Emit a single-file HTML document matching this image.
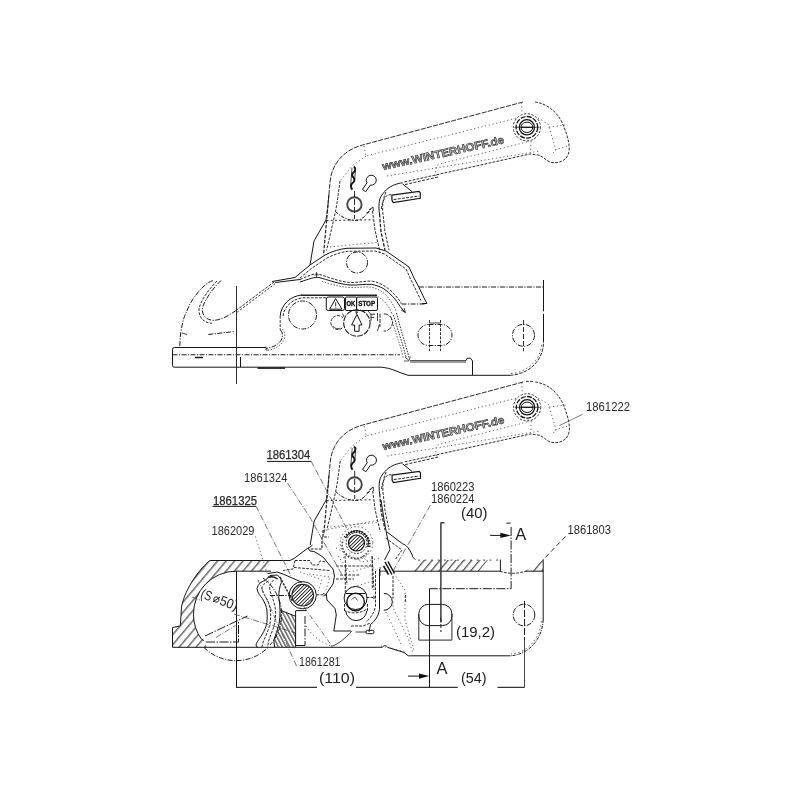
<!DOCTYPE html>
<html><head><meta charset="utf-8"><title>Coupling drawing</title>
<style>
html,body{margin:0;padding:0;background:#fff;}
body{width:800px;height:800px;overflow:hidden;font-family:"Liberation Sans",sans-serif;}
svg{display:block;filter:grayscale(1) blur(.3px)}
.s{fill:none;stroke:#151515;stroke-width:1}
.k{fill:none;stroke:#111;stroke-width:1.5}
.d{fill:none;stroke:#1c1c1c;stroke-width:1;stroke-dasharray:5 1.4 1.2 1.4}
.h{fill:none;stroke:#222;stroke-width:.95;stroke-dasharray:2.8 1.3}
.t{fill:none;stroke:#444;stroke-width:.85;stroke-dasharray:1.2 2.6}
.l{fill:none;stroke:#444;stroke-width:.75;stroke-dasharray:6 1.5 1 1.5}
.n{font-family:"Liberation Sans",sans-serif;font-size:12px;fill:#2b2b2b}
.m{font-family:"Liberation Sans",sans-serif;font-size:15.5px;fill:#222}
</style></head><body>
<svg width="800" height="800" viewBox="0 0 800 800">
<defs>
<pattern id="ha" width="6.5" height="6.5" patternUnits="userSpaceOnUse" patternTransform="rotate(40)"><line x1="0.8" y1="-1" x2="0.8" y2="8" stroke="#151515" stroke-width=".95"/></pattern>
<pattern id="ha2" width="6.05" height="6.05" patternUnits="userSpaceOnUse" patternTransform="rotate(40)"><line x1="1.55" y1="-1" x2="1.55" y2="8" stroke="#151515" stroke-width=".95"/></pattern>
<pattern id="hb" width="3.3" height="3.3" patternUnits="userSpaceOnUse" patternTransform="rotate(-28)"><line x1="1.6" y1="-1" x2="1.6" y2="5" stroke="#151515" stroke-width=".95"/></pattern>
<pattern id="hc" width="2.5" height="2.5" patternUnits="userSpaceOnUse" patternTransform="rotate(45)"><line x1="1.25" y1="-1" x2="1.25" y2="4" stroke="#151515" stroke-width=".9"/></pattern>

<!-- HANDLE -->
<g id="handle">
 <!-- outer outline -->
 <path class="s" d="M310,265 L314,241 L326,220"/>
 <path class="h" style="stroke-dasharray:5 1.3" d="M326,220 L328,205 L330,182.5 C331,168 340,151 362.5,145 L523,102"/>
 <path class="h" d="M535,101.9 C551,104.5 560,116 564,127 C568,137 571,148 568,155 C565,162 556,164 550,162 C545,160 543,156 538,155 L530,154 L404,182"/>
 <!-- inner dotted lines -->
 <path class="t" d="M364,146 L366,156 L517,118"/>
 <path class="t" d="M366,156 L352,166 L340,181"/>
 <path class="t" d="M387,176 L540,151"/>
 <path class="t" d="M436,176 L435.5,170 C436,166 437,165 440,164 L527,142"/>
 <path class="t" d="M538,118 L548,124 L556,150 L552,154"/>
 <path class="t" d="M549,127 L566,125"/>
 <!-- left leg lines -->
 <path class="h" d="M340,181 L337.5,200 L335.5,211.5 L332.5,225 L326.5,250.5"/>
 <path class="h" d="M328.8,195 L326.5,222 L323.5,255" style="stroke-width:1.2;stroke-dasharray:3.5 1.5"/>
 <path class="t" d="M330,247 L353.5,244.5 L379,242.3"/>
 <path class="d" d="M335.5,211.5 C340,216 347,220.3 355,220.5 C362,220.5 367,215 371.5,207.8" style="stroke-dasharray:3.5 1.3 1.2 1.3"/>
 <path class="h" d="M326.5,220.5 L373,219.8" style="stroke-dasharray:2 2.2"/>
 <!-- right leg -->
 <path class="s" d="M402.4,182.8 L400.6,183 C397,183.8 395,184.6 392.8,185.5 C389,187.3 386.5,189.5 384.9,191.3 C381.5,195 380,198 379.6,200 C378.8,204 378.6,209 379.5,214"/>
 <path class="h" d="M379.5,214 L381,232 L385,250" style="stroke-width:1.3;stroke-dasharray:3.5 1.4"/>
 <path class="h" d="M386,192 C383,198 382,206 383,214 L385,232 L389,250"/>
 <path class="h" d="M372.5,211 L375,230 L380,252"/>
 <path class="h" d="M405,184.6 L438,177" style="stroke-dasharray:3 1.4"/>
 <!-- button -->
 <path class="s" d="M391.9,195.2 L419,191.3 L420.3,193 V198.3 L393.2,202.6 L391.9,200 Z" style="stroke-width:1.2"/>
 <path class="h" d="M393.6,199.6 L419,196" style="stroke-dasharray:3 1.2"/>
 <path class="s" d="M402.4,183.8 L412,191.6"/>
 <path class="h" d="M381.4,209 C381.8,203 384,198.5 386.6,195.8 C388.5,194.6 390,194.6 391.9,195"/>
 <!-- chain -->
 <path class="k" style="stroke-width:1.9" d="M353.8,166.5 C356,168 355.5,171 353.5,172.5 C351.5,174 352,176.5 353.5,177.5 C355,179 354.5,182 352.5,183 C350.5,184.5 350.5,188 352.5,189.5" />
 <path class="s" d="M352,168 L350.6,186 M355.6,168 L354.6,181" style="stroke-width:.8"/>
 <!-- keyhole -->
 <path class="s" d="M367.0,182.8 A5.0,5.0 0 1 1 370.3,185.1 L365.7,191.7 L362.4,189.4 Z"/>
 <!-- small bolt -->
 <circle class="s" cx="354.4" cy="204.4" r="7.2" style="stroke-width:1.9;stroke:#444"/>
 <path class="h" d="M354.5,191 V219" style="stroke-dasharray:6 2"/>
 <path class="s" d="M369,210 l4,-3 l0.3,4 M366.5,213 l2.5,-1.2" style="stroke-width:.9"/>
 <!-- lock -->
 <circle class="h" cx="526.9" cy="127.3" r="13.6" style="stroke-dasharray:2.2 1.6"/>
 <circle class="s" cx="526.9" cy="127.3" r="10.8" style="stroke-width:1.3;stroke-dasharray:5 1.3"/>
 <circle class="s" cx="526.9" cy="127.3" r="7.6" style="stroke-width:1.3"/>
 <ellipse class="s" cx="526.9" cy="127.3" rx="5.9" ry="5.2"/>
 <path class="s" d="M514.4,127.3 H539.6" style="stroke-width:.7"/>
 <path class="s" d="M520.8,127.3 H533" style="stroke-width:1.2"/>
 <path class="t" d="M521.5,102.5 L522,111.5"/>
 <path class="t" d="M555,150 L567.5,146"/>
 <path class="t" d="M527.5,140 L531,141 L530.6,152.5"/>
 <!-- text -->
 <text transform="translate(383.3,170.3) rotate(-12.6) scale(1.0704,1)" font-family="Liberation Sans, sans-serif" font-weight="bold" font-size="11" fill="#b8b8b8" stroke="#222" stroke-width=".55">www.WINTERHOFF.de</text>
</g>
</defs>
<rect width="800" height="800" fill="#fff"/>

<!-- ================= UPPER DRAWING ================= -->
<g id="upper">
<use href="#handle"/>
<!-- base plate -->
<path class="s" d="M266,347.5 H174.3 Q172.5,347.5 172.5,349.3 V365.4 Q172.5,367.2 174.3,367.2 H382 C392,368 398,372.5 408,375.3 H510"/>
<path class="h" d="M510,375.3 C529,374.5 543.5,360 543.5,342.5" style="stroke-dasharray:3.5 1.2"/>
<path class="t" d="M511,373.5 C527.5,372.5 541.5,359 541.7,343" style="stroke-dasharray:1.5 2.5"/>
<path class="s" d="M543.5,280 V311.3 M543.5,313.8 V342.5"/>
<path class="d" d="M172.5,354.7 H400" style="stroke-width:1.1"/>
<path class="k" d="M195,357.5 H203"/>
<path class="s" d="M236.5,286 V384" style="stroke-width:.9"/>
<path class="s" d="M240.5,357 V367"/>
<path class="k" d="M257.5,368.1 H285"/>
<!-- hook -->
<path class="d" d="M179.8,346 C180,332 183,318 186.5,312 C189,305 192,300 195.5,295.5 C199,291 202,287.5 206,284.3 C209,282 211,281 214,280.4"/>
<path class="s" d="M182,333 l5,1.5" style="stroke-width:.8"/>
<path class="d" d="M221,280.5 C214,287 206,298 203,306 C200.5,313 205,320 213,320.3 C222,320.3 230,314.5 236,310.5"/>
<path class="h" d="M217,281 C210,288 201.5,299 199.3,307.5 C197.5,316 203,323 212,323.3"/>
<path class="h" d="M236,310.5 L274,282"/>
<path class="h" d="M237.2,312.2 L275,283.8" style="stroke-dasharray:2 1.8"/>
<path class="d" d="M208.3,334.5 L234.5,331.5"/>
<!-- body top -->
<path class="s" d="M272,281.5 L295,277.5 L310,265 L325,255 C333,251 340,249 347,248.3 L376,248 L386,251 L409,267 L414.4,278.8 L418.8,287 L425,300 L427,303.5 L422,303.5"/>
<path class="h" d="M300,278 L312,268 L327,258 C335,254 342,252 348,251.3 L375,251 L384.5,254 L406,269 L411,280 L415.5,289 L421,300.5"/>
<!-- ridge -->
<path class="s" d="M275,282.5 L300,279.5"/>
<path class="h" d="M300,279.5 C308,276 313,273.5 318,274 C326,276 338,281.5 350,282.5 C358,282.8 366,280.5 372.5,281.3 C378,282 382,284.5 385,286.3 C389,289 392.5,292 395,295 C398,298.5 400,301 401.3,303.8"/>
<path class="s" d="M300,282 C309,279 314,277 319,277.5 C327,279.5 338,284 350,285 C358,285.5 365,283.8 371.3,284.4 C376,285 380.5,286.8 383.8,288.8 C387,291 390,293.5 392.5,296.3 C395.5,299.5 398,303 400,306.3 L405,312.5"/>
<path class="t" d="M322,281.5 C330,284 340,287 350,287.5 C358,288 364,286.5 370,287 C374.5,287.6 378,289.2 381.3,291.3 C384.5,293.5 387.5,296.5 390,300 C392.5,303.5 394.5,307 396.3,311.3" style="stroke-dasharray:1.5 1.5"/>
<path class="t" d="M375,295 C379,297 383,300 386.3,303.8 C389,307 391,311 392.5,315" style="stroke-dasharray:1.5 1.5"/>
<path class="h" d="M396.5,313 L400.5,328 L405.5,345 L409.5,359" style="stroke-dasharray:1.6 1.2"/>
<path class="h" d="M393.5,315 L398,330 L403,346 L406.5,359" style="stroke-dasharray:1.6 1.2"/>
<path class="t" d="M390.5,316 L395.5,332 L400.5,347 L403.5,359" style="stroke-dasharray:1.5 1.5"/>
<path class="s" d="M401,310 l4.5,2.5 l-1.5,-4.5" style="stroke-width:.8"/>
<path class="s" d="M316.5,272 v6 M314.5,275 h4" style="stroke-width:.7"/>
<!-- window -->
<path class="s" d="M280.2,316 C281,305 290,296 302,295"/>
<path class="s" d="M301,295.2 H377" style="stroke-width:1.35;stroke:#222"/>
<path class="h" d="M283,316 C284,307 292,299 303,297.8 H326"/>
<path class="h" d="M280.2,316 V330"/>
<path class="d" d="M280.2,330 C282.5,332 283.2,335 281.8,339 C279.5,344 273,347.5 266,348.5"/>
<path class="t" d="M282.5,329 C285,332 285.5,336 284,340 C281.5,345.5 274,349.5 268,350.3" style="stroke-dasharray:1.5 1.5"/>
<path class="s" d="M266,346.5 v3.5 h2.5" style="stroke-width:.7"/>
<circle class="d" cx="302.5" cy="315" r="14"/>
<circle class="d" cx="357" cy="262.5" r="10.5"/>
<!-- labels -->
<rect class="s" x="326.3" y="297" width="18.2" height="13.5" rx="2"/>
<path class="s" d="M335.6,298.6 L342,309.2 H329.6 Z"/>
<path class="s" d="M335.7,302.3 V306.4 M335.7,307.4 V308.2" style="stroke-width:.9"/>
<rect class="s" x="345.6" y="297" width="11" height="13.5" rx=".5"/>
<rect class="s" x="356.6" y="297" width="20.9" height="13.5" rx="1.5"/>
<text x="346.4" y="306.3" font-size="6.8" font-weight="bold" fill="#111" stroke="#111" stroke-width=".3" textLength="8.8" lengthAdjust="spacingAndGlyphs">OK</text>
<text x="358.2" y="306.3" font-size="6.8" font-weight="bold" fill="#111" stroke="#111" stroke-width=".3" textLength="17" lengthAdjust="spacingAndGlyphs">STOP</text>
<path class="s" d="M356.6,309 V313.5 M355.4,311.5 L356.6,314 L357.8,311.5" style="stroke-width:.7"/>
<circle class="h" cx="356.9" cy="323" r="13.2" style="stroke-dasharray:6 1.2;stroke-width:1.1"/>
<path class="s" d="M356.9,314.4 L362,325 H359.1 V331.3 H354.6 V325 H351.6 Z"/>
<path class="h" d="M342.3,328 A7,7 0 1 1 342.8,317.6" style="stroke-dasharray:3 1.2"/>
<path class="s" d="M333,326 l3,2.6 h4" style="stroke-width:.7"/>
<path class="s" d="M342.5,313.5 l1.5,3.5" style="stroke-width:.8"/>
<path class="h" d="M383.8,313.8 A8.7,8.7 0 0 1 383.8,331.2" style="stroke-dasharray:5 1.2"/>
<path class="h" d="M380,313.8 V327" style="stroke-dasharray:4 1.2"/>
<path class="s" d="M370.5,314.2 h4.5 M371,314.2 v6.5 M371,317.4 h3.2" style="stroke-width:1;stroke:#333"/>
<path class="s" d="M377.5,313 v8 M379.5,324 l-2,7" style="stroke-width:.8"/>
<path class="s" d="M368,311 l3,3.5" style="stroke-width:.8"/>
<!-- right side -->
<path class="d" d="M419,287 H543"/>
<path class="d" d="M401.5,304 H425"/>
<path class="s" d="M405,357 l4,3.5 l1.5,-4 M404,361 h5" style="stroke-width:.7"/>
<path class="s" d="M410,360.6 H466 M410,362 H466" style="stroke-width:.8"/>
<path class="s" d="M466,360.5 L467,358.4 L470.5,358.2 L472.5,361 V375.3"/>
<rect class="d" x="418" y="324.5" width="34" height="21" rx="10.5"/>
<path class="h" d="M429.5,320 V351 M440.5,320 V351"/>
<path class="s" d="M429.5,323 H440.5" style="stroke-width:.8"/>
<circle class="d" cx="523.5" cy="335.3" r="11"/>
<path class="h" d="M523.5,320 V351.3" style="stroke-dasharray:5 2"/>
</g>

<!-- ================= LOWER DRAWING ================= -->
<g id="lower">
<use href="#handle" transform="translate(0.2,280)"/>
<path class="h" d="M526,381.4 H534"/>
<!-- hatched housing front -->
<path fill="url(#ha)" stroke="none" d="M210,560.5 H276 L266,571.2 H236 A42.5,42.5 0 0 0 193.5,614.5 A42.5,42.5 0 0 0 201.3,639 L204,640.5 L207,647.5 H172.5 V627.5 L180.3,626 L181.5,607 C185,588 201,567 210,560.5 Z"/>
<path class="s" d="M290,560.5 H210 C201,567 185,588 181.5,607 L180.3,626 L172.5,627.5 V647.3 H382.5"/>
<path class="s" d="M271,571.2 H236 A42.5,42.5 0 0 0 193.5,614.5 A42.5,42.5 0 0 0 201.3,639 L204,640.5"/>
<path class="s" d="M236.5,571.2 V687.5"/>
<!-- ball -->
<path class="d" d="M204,647.5 A45.5,45.5 0 0 0 268,647.5"/>
<path class="d" d="M263,578 A45.5,45.5 0 0 1 270,645"/>
<path class="d" d="M206,642 H238.5 V621" style="stroke-dasharray:9 1.5 1.5 1.5"/>
<path class="l" d="M216,637.5 L235.5,625.5"/>
<path class="d" d="M205,636 L247.5,616" style="stroke-dasharray:9 1.5 1.5 1.5"/>
<path class="l" d="M234,614 L296,633"/><path class="l" d="M192,597 L200,600"/>

<!-- claw -->
<path class="s" d="M265,580.6 L270,575.5 L277.5,575 L281,579 L281.3,582.5 C279.5,587 278.7,592 278.8,597.5 C279.5,602 280,606 280,610"/>
<path class="s" d="M265,580.6 C261,581.5 258,584 257,588.8 C257.5,593 260.5,596 262.5,598.8 C265,603 266.5,607 266.9,610 C267.3,615 267.3,619 266.9,622.5 C266,627 264.5,630.5 262.5,633.8 C260,638 257.5,641 256.3,643.8 C255.8,645.8 256.3,647 258,647.5"/>
<path class="h" d="M268.5,581 C264,583.5 261.5,586 262,589.5 C263,593.5 265.5,596.5 267.5,600 C269.8,605 270.8,611 270.7,616 C270.5,622 269.5,627 267,633 C265,638 262.5,642 262,647"/>
<path class="h" d="M273.5,580 C270,583.5 269,587 270,591 C272,597 274.5,602 275.5,610 C276,618 274.5,626 271.5,633 C269.5,638 267.5,643 268,647"/>
<path class="s" d="M280,610 C280.2,615 279.8,620 278.8,625 C277.5,630 275.5,635 273.8,640 L274.5,647"/>
<path class="s" d="M268,577.5 C271,576.3 275,576.8 277.5,579" style="stroke-width:1.6"/>
<!-- wedge -->
<path fill="url(#hb)" stroke="none" d="M280,610 L295.6,616.3 V647 H274.5 L273.8,640 L278.8,625 Z"/>
<path class="s" d="M280,610 L295.6,616.3 M295.6,611 V647 M295.6,610.6 H306.5 M295.6,645.5 H305"/>
<path class="d" d="M305,616 V645.5" style="stroke-dasharray:8 1.5 1.5 1.5"/>
<!-- pin -->
<circle cx="302.7" cy="595.2" r="10.8" fill="url(#hc)" stroke="#222" stroke-width="1.1"/>
<circle class="s" cx="302.7" cy="595.2" r="13.6"/>
<path class="s" d="M268,573.5 L277,572 L283,574 L302,582.3"/>
<path class="h" d="M280,577 L292.5,601" style="stroke-width:1.4;stroke-dasharray:2.4 1.1"/>

<path class="d" d="M270,595.5 H291"/>
<path class="h" d="M316.5,594.8 H325.5"/>
<path class="s" d="M323,593.3 L326.5,594.8 L323,596.3" style="stroke-width:.7"/>
<!-- housing upper-left edges -->
<path class="s" d="M290,560.5 L294,558.5 L308,548 L310,551 L314,551.5 L320,555 L324,558 L327,562 L333,569 L334.5,576 L333,584 L326.3,593.8 L327,600 L335,608.5 L336.3,615 L333.8,631 H351"/>
<path class="s" d="M308,548 L310,547 L312.5,545"/>
<path class="h" d="M323,530 V537 H329 M322,537 V549 H310" style="stroke-width:1.2"/>
<path class="h" d="M295,560.5 L293,569 L283,570.5"/>
<path class="h" d="M295,560.5 H310 L312,565 H318 L320,561 L326,562"/>
<path class="h" d="M294,567.5 L330,570.5"/>
<path class="t" d="M309,574 L330,577 L326,590"/>
<path class="t" d="M300,572 L322,580 L318,592"/>
<path class="t" d="M306,626 C312,636 322,643 331.5,646"/>
<path class="s" d="M352,630.8 C345,639 338,644 331.5,646.5" style="stroke-width:.8"/>
<!-- upper pin with spring -->
<circle cx="356.5" cy="543" r="8" fill="url(#hc)" stroke="#111" stroke-width="1.2"/>
<circle class="h" cx="356.5" cy="543" r="10.4" style="stroke-dasharray:2 1.4"/>
<path class="k" d="M344.8,537.6 A13.2,13.2 0 0 1 368.9,547.5" style="stroke-dasharray:1.3 1.4;stroke-width:2.8;stroke:#222"/>
<path class="s" d="M345.8,537.9 A11.8,11.8 0 0 1 367.6,547"/>
<path class="t" d="M368.5,550.5 A13.8,13.8 0 0 1 343.2,539.5" style="stroke-dasharray:1.6 1.6;stroke-width:1.6"/>
<circle class="t" cx="356.5" cy="543" r="16.3" style="stroke-dasharray:1.5 2.2"/>
<path class="t" d="M324,530 L382.5,519.5"/>
<path class="t" d="M336,548 L362,562 L380,558"/>
<path class="t" d="M338,556 L350,572 L372,566"/>
<path class="h" d="M345,556 L347,585"/>
<path class="h" d="M372,556 L374,590"/>
<path class="h" d="M336,566 L372,566"/>
<path class="h" d="M340,575 H360"/>
<path class="h" d="M372.3,556.5 V588 M345.3,565.5 V592.5 M336,579 H354"/>
<path class="t" d="M350,588 L376,580 M340,560 L352,552 M362,556 L378,572"/>
<!-- lower circle -->
<circle class="s" cx="355.6" cy="598" r="11.5"/>
<circle class="s" cx="355.6" cy="602" r="8.8" style="stroke-width:1.4"/>
<path class="s" d="M345.7,611 A10.6,10.6 0 0 0 366.8,611"/>
<path class="h" d="M344.5,604 V612 M367.5,604 V612"/>
<path class="s" d="M345.6,593.5 H365.6"/>
<path class="s" d="M351.5,599.5 l3.5,-2.5 l2.5,3.5" style="stroke-width:.7"/>
<path class="h" d="M344,610 C350,614 360,614 367,609"/>
<path class="s" d="M383.8,593.3 A8.5,8.5 0 0 1 383.8,610.3"/>
<path class="s" d="M379.5,569 V609.5 C378.5,616 375,621 370.5,624.5 L369,632"/>
<path class="h" d="M375.5,571 V606 C374,613 371,618 366,622"/>
<rect class="s" x="366" y="630.3" width="8" height="3.4" rx="1.5"/>
<path class="s" d="M355.5,632 H366" style="stroke-width:.8"/>
<path class="h" d="M351,626 H363 L370.5,623"/>
<path class="h" d="M366.5,597.5 H375"/><path class="s" d="M373,596 l2.5,1.5 l-2.5,1.5" style="stroke-width:.7"/>
<path class="h" d="M393,576 V598 M405.6,595 V602"/>
<!-- right leg into housing -->
<path class="s" d="M381,500 L384,519.5 L387,536 L390,549.5 L384.5,560"/>
<path class="s" d="M387,532 L402.5,543.7 L405.5,545.2 C409,548 411.5,553 413,557.2 L415.3,559.7"/>
<path class="h" d="M385.5,538 L402,550 L395,560"/>
<path class="k" d="M385,562 L392,574.5 M388,561.5 L394.5,573.5 M383.5,566 L388.5,574.5" style="stroke-width:1.5"/>
<path class="s" d="M380,571.2 h8 M380,567 v9" style="stroke-width:.8"/>
<path class="t" d="M396,576.5 L405,590 V620 L414,650"/>
<path class="t" d="M393,590 V608 L408,638 L412.5,651.5"/>
<path class="t" d="M386,612 L402,646"/>
<!-- hatched top band -->
<path fill="url(#ha2)" stroke="none" d="M422.5,560.1 H488 L479,571.2 H413 Z"/>
<path fill="url(#ha2)" stroke="none" d="M543,560 V571.2 H525 Z"/>
<path class="s" d="M393,571.2 H500 M525,571.2 H543 M500.4,559.6 V571.2"/>
<path class="h" d="M500,571.2 C508,574 518,574 525,571.2"/>
<path class="h" d="M418,560.1 H500" style="stroke-dasharray:2 4.5;stroke:#444"/>
<!-- bottom line -->
<path class="s" d="M382.5,647.3 C384,645 386,645 387.5,647.3 L404,652.5 L408.3,655.8 H510"/>
<path class="t" d="M381,646 L405,651.5"/>
<path class="s" d="M543.2,559.5 V620"/>
<path class="d" d="M543.2,620 C542,640 528,655 510,655.8" style="stroke-dasharray:3 1 1 1"/>
<path class="t" d="M541.4,621 C540,639 527,653 511,654" style="stroke-dasharray:1.5 2.5"/>
<!-- slot and hole -->
<rect class="s" x="418.8" y="604.4" width="33.1" height="21.2" rx="9.5"/>
<path class="s" d="M418.8,614 V640.1 M451.9,614 V640.1 M418.8,640.1 H451.9" style="stroke:#2a2a2a"/>
<circle class="d" cx="524" cy="615" r="10.8"/>
<path class="d" d="M524.5,601 V640" style="stroke-dasharray:7 2"/>
<path class="s" d="M524.5,640 V687.5" style="stroke-width:.8"/>
<!-- dimension lines -->
<path class="s" d="M440.9,522.5 V622.5 M440.9,522.8 h3.5" style="stroke-width:1.5;stroke:#3a3a3a"/>
<path class="d" d="M440.9,618 V632" style="stroke-dasharray:4 2"/>
<path class="d" d="M511.1,527 V588.7 H429.5" style="stroke-dasharray:9 1.5 1.5 1.5"/>
<path class="s" d="M506.4,523.1 h4.2"/>
<path class="s" d="M429.5,588.7 V687.5"/>
<path class="s" d="M236,687.4 H317 M356,687.4 H457.7 M497.5,687.4 H524.5" style="stroke:#333;stroke-width:1.2"/>
<path class="s" d="M490.2,535.4 H503"/>
<path d="M510.9,535.4 L500.4,532.8 V538 Z" fill="#111"/>
<path class="s" d="M408,676.1 H421"/>
<path d="M429.3,676.1 L419,673.5 V678.7 Z" fill="#111"/>
<!-- leaders -->
<path class="s" d="M267,461.4 H311 M212.5,506.4 H256"/>
<path class="l" d="M311,461 L347.5,530"/>
<path class="l" d="M287.5,483 L310,517.5 L345,580"/>
<path class="l" d="M256,506 L291,576"/>
<path class="t" d="M255.5,536.5 L268,576"/>
<path class="l" d="M296.5,666 L258,580"/>
<path class="l" d="M430.5,505 L393,571"/>
<path class="l" d="M582.5,414.4 L559.4,425.6" style="stroke-dasharray:none;stroke:#555;stroke-width:.8"/>
<path class="l" d="M565.5,536.5 L543,560" style="stroke-dasharray:5 3;stroke:#222;stroke-width:.95"/>
<path class="l" d="M304,607 L332,646" style="stroke-dasharray:5 2 1 2"/>
<!-- texts -->
<text class="n" x="586" y="411" textLength="44" lengthAdjust="spacingAndGlyphs">1861222</text>
<text class="n" x="567.5" y="534" textLength="43.5" lengthAdjust="spacingAndGlyphs">1861803</text>
<text class="n" x="431" y="491.3" textLength="43.5" lengthAdjust="spacingAndGlyphs">1860223</text>
<text class="n" x="431" y="502.7" textLength="43.5" lengthAdjust="spacingAndGlyphs">1860224</text>
<text class="n" x="266.4" y="459.3" textLength="44" lengthAdjust="spacingAndGlyphs" style="stroke:#2b2b2b;stroke-width:.25">1861304</text>
<text class="n" x="244" y="482" textLength="43.5" lengthAdjust="spacingAndGlyphs">1861324</text>
<text class="n" x="213" y="504.5" textLength="44" lengthAdjust="spacingAndGlyphs" style="stroke:#2b2b2b;stroke-width:.25">1861325</text>
<text class="n" x="211.5" y="535" textLength="43" lengthAdjust="spacingAndGlyphs">1862029</text>
<text class="n" x="299" y="666" textLength="41.5" lengthAdjust="spacingAndGlyphs">1861281</text>
<text class="m" x="461" y="518" textLength="26.5" lengthAdjust="spacingAndGlyphs">(40)</text>
<text class="m" x="456" y="637" textLength="39" lengthAdjust="spacingAndGlyphs">(19,2)</text>
<text class="m" x="319" y="683" textLength="36" lengthAdjust="spacingAndGlyphs">(110)</text>
<text class="m" x="461" y="682.5" textLength="25.5" lengthAdjust="spacingAndGlyphs">(54)</text>
<text class="m" x="515.3" y="540" style="font-size:16.4px">A</text>
<text class="m" x="436.6" y="673.7" style="font-size:16.4px">A</text>
<g transform="translate(199.8,597.4) rotate(20)">
<text class="m" x="0" y="0" transform="scale(0.7945,1)" style="font-size:13.6px">(S</text>
<circle class="s" cx="16.3" cy="-3.7" r="2.6" style="stroke-width:.9"/><path class="s" d="M13.9,-0.3 L18.9,-7.3" style="stroke-width:.9"/>
<text class="m" x="0" y="0" transform="translate(20.2,0) scale(0.9259,1)" style="font-size:13.6px">50)</text>
</g>
</g>
</svg>
</body></html>
